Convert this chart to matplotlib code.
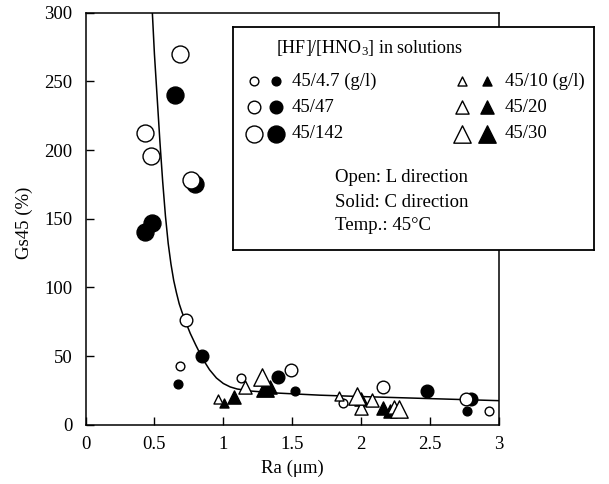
import matplotlib

matplotlib.use("Agg")
import matplotlib.pyplot as plt

plt.rcParams["font.family"] = ["Liberation Serif", "DejaVu Serif"]
plt.rcParams["mathtext.fontset"] = "custom"
plt.rcParams["mathtext.rm"] = "Liberation Serif"
plt.rcParams["mathtext.it"] = "Liberation Serif:italic"
plt.rcParams["font.size"] = 13.5

# fitted curve
curve_ra = [0.485, 0.50, 0.52, 0.54, 0.56, 0.58, 0.60, 0.62, 0.64, 0.66, 0.68, 0.70,
            0.73, 0.76, 0.80, 0.85, 0.90, 0.95, 1.00, 1.05, 1.10, 1.20, 1.40, 1.70,
            2.00, 2.50, 3.00]
curve_gs = [300, 270, 238, 206, 177, 152, 132, 117, 105, 96, 88, 82,
            74, 66.5, 58, 48, 40, 34, 30, 27.5, 26, 24.5, 23, 21.5,
            20.5, 19, 17.5]

# circles: HF/HNO3 = 45/4.7, 45/47, 45/142 ; open = L, solid = C
c47_open_ra = [0.683, 1.13, 1.87, 2.925]
c47_open_gs = [43, 34, 16, 10]
c47_solid_ra = [0.673, 1.52, 2.77]
c47_solid_gs = [29.6, 24.8, 10]
c470_open_ra = [0.726, 1.49, 2.155, 2.76]
c470_open_gs = [76, 40, 27.2, 18.5]
c470_solid_ra = [0.842, 1.397, 2.475, 2.80]
c470_solid_gs = [50, 35, 24.5, 18.5]
c142_open_ra = [0.431, 0.477, 0.683, 0.763]
c142_open_gs = [212.6, 196, 270, 178]
c142_solid_ra = [0.431, 0.481, 0.646, 0.794]
c142_solid_gs = [140, 147, 240, 175]

# triangles: 45/10, 45/20, 45/30
t10_open_ra = [0.96, 1.84]
t10_open_gs = [18.5, 20.9]
t10_solid_ra = [1.005]
t10_solid_gs = [15.6]
t20_open_ra = [1.155, 2.0, 2.08, 2.235]
t20_open_gs = [27.2, 12, 18, 13.1]
t20_solid_ra = [1.08, 1.34, 2.0, 2.155, 2.21]
t20_solid_gs = [20.4, 27.5, 18.5, 12, 10.2]
t30_open_ra = [1.28, 1.97, 2.275]
t30_open_gs = [34.5, 20.9, 11.2]
t30_solid_ra = [1.30]
t30_solid_gs = [27]

x_ticks = [0, 0.5, 1, 1.5, 2, 2.5, 3]
x_tick_labels = ["0", "0.5", "1", "1.5", "2", "2.5", "3"]
y_ticks = [0, 50, 100, 150, 200, 250, 300]

SIZES = {"s": 6.3, "m": 9.1, "l": 12.2}
TRI = {"s": 6.5, "m": 9.5, "l": 12.5}


def style(marker, ms, solid):
    return dict(marker=marker, s=ms ** 2, c="black" if solid else "white",
                edgecolors="black", linewidths=1.0)


W, H = 609, 484
fig = plt.figure(figsize=(W / 100, H / 100), dpi=100)
ax = fig.add_axes([85.5 / W, 1 - 424.7 / H, (499 - 85.5) / W, (424.7 - 12.7) / H])

ax.plot(curve_ra, curve_gs, color="black", lw=1.1, zorder=2)

series = [
    (c47_solid_ra, c47_solid_gs, "o", SIZES["s"], True),
    (c470_solid_ra, c470_solid_gs, "o", SIZES["m"], True),
    (c142_solid_ra, c142_solid_gs, "o", SIZES["l"], True),
    (t10_solid_ra, t10_solid_gs, "^", TRI["s"], True),
    (t20_solid_ra, t20_solid_gs, "^", TRI["m"], True),
    (t30_solid_ra, t30_solid_gs, "^", TRI["l"], True),
    (c47_open_ra, c47_open_gs, "o", SIZES["s"], False),
    (c470_open_ra, c470_open_gs, "o", SIZES["m"], False),
    (c142_open_ra, c142_open_gs, "o", SIZES["l"], False),
    (t10_open_ra, t10_open_gs, "^", TRI["s"], False),
    (t20_open_ra, t20_open_gs, "^", TRI["m"], False),
    (t30_open_ra, t30_open_gs, "^", TRI["l"], False),
]
for i, (xs, ys, mk, ms, solid) in enumerate(series):
    ax.scatter(xs, ys, zorder=3 + i * 0.01, clip_on=False, **style(mk, ms, solid))

ax.set_xlim(0, 3)
ax.set_ylim(0, 300)
ax.set_xticks(x_ticks)
ax.set_xticklabels(x_tick_labels)
ax.set_yticks(y_ticks)
ax.tick_params(direction="in", length=5.5, width=1.0, labelsize=13.5)
ax.tick_params(axis="y", pad=9.5)
ax.tick_params(axis="x", pad=8)
for sp in ax.spines.values():
    sp.set_linewidth(1.1)

ax.set_xlabel("Ra (μm)")
ax.xaxis.set_label_coords(0.5, -0.085)
ax.set_ylabel("Gs45 (%)")
ax.yaxis.set_label_coords(-0.127, 0.49)

# legend box, laid out in pixel units of its own axes
bx0, by0, bx1, by1 = 233, 27, 594, 250
leg = fig.add_axes([bx0 / W, 1 - by1 / H, (bx1 - bx0) / W, (by1 - by0) / H], zorder=5)
leg.set_xlim(bx0, bx1)
leg.set_ylim(by1, by0)
leg.set_xticks([])
leg.set_yticks([])
for sp in leg.spines.values():
    sp.set_linewidth(1.3)

leg.text(370, 48, r"[HF]/[HNO$_3$] in solutions", ha="center", va="center", fontsize=13)
rows = [81, 107.3, 134]
circle_labels = ["45/4.7 (g/l)", "45/47", "45/142"]
tri_labels = ["45/10 (g/l)", "45/20", "45/30"]
for y, key, clab, tlab in zip(rows, ["s", "m", "l"], circle_labels, tri_labels):
    leg.scatter([254], [y], **style("o", SIZES[key], False))
    leg.scatter([276], [y], **style("o", SIZES[key], True))
    leg.text(292, y, clab, ha="left", va="center")
    leg.scatter([462], [y], **style("^", TRI[key], False))
    leg.scatter([487], [y], **style("^", TRI[key], True))
    leg.text(505, y, tlab, ha="left", va="center")

for y, txt in zip([178, 202, 225], ["Open: L direction", "Solid: C direction", "Temp.: 45°C"]):
    leg.text(335, y, txt, ha="left", va="center")

fig.savefig("out.png", dpi=100)
